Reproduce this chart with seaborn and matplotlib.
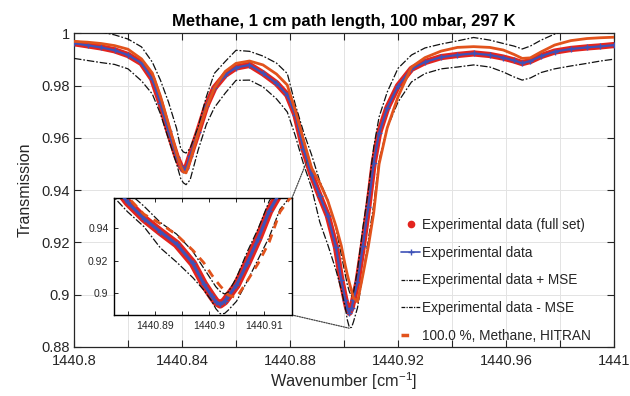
import numpy as np
import pandas as pd
import matplotlib
matplotlib.use("Agg")
import matplotlib.pyplot as plt
import seaborn as sns
from matplotlib.lines import Line2D
from matplotlib.patches import ConnectionPatch

# ---------------- data ----------------
wavenumber = [1440.800, 1440.805, 1440.810, 1440.815, 1440.820, 1440.825, 1440.829, 1440.832,
              1440.835, 1440.838, 1440.8395, 1440.8405, 1440.8415, 1440.843, 1440.846, 1440.849,
              1440.852, 1440.856, 1440.860, 1440.865, 1440.870, 1440.875, 1440.879, 1440.882,
              1440.885, 1440.888, 1440.891, 1440.894, 1440.897, 1440.899, 1440.9005, 1440.9012,
              1440.902, 1440.9028, 1440.9035, 1440.905, 1440.907, 1440.909, 1440.911, 1440.913,
              1440.916, 1440.920, 1440.925, 1440.930, 1440.936, 1440.942, 1440.948, 1440.954,
              1440.959, 1440.963, 1440.966, 1440.969, 1440.973, 1440.978, 1440.984, 1440.990,
              1440.995, 1441.000]

exp_T = [0.9962, 0.9954, 0.9946, 0.9935, 0.9917, 0.9886, 0.9825, 0.9733, 0.9625, 0.9528,
         0.9492, 0.9477, 0.9483, 0.9531, 0.9624, 0.9722, 0.9791, 0.9841, 0.9869, 0.9879,
         0.9847, 0.9809, 0.9764, 0.9688, 0.9558, 0.9458, 0.9378, 0.9302, 0.9183, 0.9057,
         0.8981, 0.8948, 0.8931, 0.8950, 0.8981, 0.9049, 0.9187, 0.9336, 0.9504, 0.9619,
         0.9714, 0.9799, 0.9864, 0.9890, 0.9909, 0.9917, 0.9923, 0.9917, 0.9907, 0.9896,
         0.9886, 0.9894, 0.9913, 0.9930, 0.9940, 0.9946, 0.9950, 0.9955]

mse_upper = [1.0024, 1.0015, 1.0005, 0.9994, 0.9978, 0.9948, 0.9890, 0.9821, 0.9737, 0.9636,
             0.9560, 0.9546, 0.9542, 0.9560, 0.9642, 0.9757, 0.9847, 0.9892, 0.9935, 0.9931,
             0.9913, 0.9886, 0.9846, 0.9726, 0.9623, 0.9535, 0.9435, 0.9363, 0.9256, 0.9153,
             0.9076, 0.9040, 0.9011, 0.8995, 0.9007, 0.9095, 0.9256, 0.9398, 0.9565, 0.9680,
             0.9775, 0.9866, 0.9917, 0.9944, 0.9959, 0.9971, 0.9984, 0.9974, 0.9961, 0.9951,
             0.9940, 0.9951, 0.9974, 0.9997, 1.0013, 1.0020, 1.0024, 1.0028]

mse_lower = [0.9904, 0.9896, 0.9888, 0.9881, 0.9864, 0.9818, 0.9768, 0.9692, 0.9596, 0.9500,
             0.9445, 0.9428, 0.9421, 0.9439, 0.9554, 0.9651, 0.9716, 0.9771, 0.9820, 0.9821,
             0.9795, 0.9749, 0.9699, 0.9607, 0.9500, 0.9409, 0.9279, 0.9191, 0.9095, 0.9019,
             0.8950, 0.8905, 0.8874, 0.8875, 0.8896, 0.8950, 0.9076, 0.9210, 0.9344, 0.9516,
             0.9638, 0.9737, 0.9814, 0.9846, 0.9864, 0.9871, 0.9879, 0.9871, 0.9852, 0.9833,
             0.9821, 0.9829, 0.9850, 0.9864, 0.9875, 0.9885, 0.9894, 0.9901]

hitran_T = [0.9969, 0.9966, 0.9961, 0.9953, 0.9939, 0.9902, 0.9848, 0.9760, 0.9653, 0.9542,
            0.9492, 0.9470, 0.9466, 0.9512, 0.9619, 0.9714, 0.9791, 0.9854, 0.9885, 0.9894,
            0.9879, 0.9844, 0.9802, 0.9703, 0.9592, 0.9485, 0.9428, 0.9359, 0.9263, 0.9187,
            0.9110, 0.9078, 0.9045, 0.9015, 0.8988, 0.8973, 0.9076, 0.9184, 0.9313, 0.9500,
            0.9638, 0.9757, 0.9871, 0.9907, 0.9932, 0.9946, 0.9949, 0.9946, 0.9936, 0.9919,
            0.9904, 0.9906, 0.9929, 0.9955, 0.9972, 0.9980, 0.9983, 0.9985]

series_labels = ["Experimental data (full set)", "Experimental data",
                 "Experimental data + MSE", "Experimental data - MSE",
                 "100.0 %, Methane, HITRAN"]

main_xticks = [1440.80, 1440.82, 1440.84, 1440.86, 1440.88, 1440.90, 1440.92, 1440.94,
               1440.96, 1440.98, 1441.00]
main_xlabels = ["1440.8", "", "1440.84", "", "1440.88", "", "1440.92", "", "1440.96", "", "1441"]
main_yticks = [0.88, 0.90, 0.92, 0.94, 0.96, 0.98, 1.00]
main_ylabels = ["0.88", "0.9", "0.92", "0.94", "0.96", "0.98", "1"]
inset_xticks = [1440.89, 1440.90, 1440.91]
inset_xminor = [1440.885, 1440.895, 1440.905]
inset_xlabels = ["1440.89", "1440.9", "1440.91"]
inset_yticks = [0.90, 0.92, 0.94]
inset_ylabels = ["0.9", "0.92", "0.94"]

# ---------------- style ----------------
sns.set_theme(style="whitegrid")
plt.rcParams["font.family"] = ["Liberation Sans", "DejaVu Sans"]
plt.rcParams["mathtext.default"] = "regular"
TXT = "#262626"

C_RED = "#E3241E"
C_BLUE = "#3E52B8"
C_ORANGE = "#E2531C"
C_BLACK = "#111111"
DASHDOT = (0, (6, 1.5, 1.4, 1.5))

df = pd.DataFrame({"w": wavenumber, "exp": exp_T, "up": mse_upper,
                   "lo": mse_lower, "hitran": hitran_T})

fig = plt.figure(figsize=(6.3, 3.96), dpi=100)
ax = fig.add_axes([74 / 630, 1 - 347 / 396, 540 / 630, 313.7 / 396])


def draw(a, inset=False):
    sns.lineplot(data=df, x="w", y="exp", ax=a, color=C_RED, lw=4.5 if not inset else 6,
                 sort=False, estimator=None, legend=False, zorder=2)
    sns.lineplot(data=df, x="w", y="exp", ax=a, color=C_BLUE, lw=1.6 if not inset else 2.2,
                 marker="+", markersize=4 if not inset else 5, markeredgewidth=1.0,
                 markeredgecolor=C_BLUE, sort=False, estimator=None, legend=False, zorder=3)
    for col in ("up", "lo"):
        sns.lineplot(data=df, x="w", y=col, ax=a, color=C_BLACK, lw=0.9,
                     linestyle=DASHDOT, sort=False, estimator=None, legend=False, zorder=4)
    if inset:
        sns.lineplot(data=df, x="w", y="hitran", ax=a, color=C_ORANGE, lw=2.0,
                     linestyle=(0, (3, 2.4)), sort=False, estimator=None, legend=False, zorder=5)
    else:
        sns.lineplot(data=df, x="w", y="hitran", ax=a, color=C_ORANGE, lw=2.0,
                     sort=False, estimator=None, legend=False, zorder=5)


draw(ax)
ax.set_xlim(1440.8, 1441.0)
ax.set_ylim(0.88, 1.0)
ax.set_xticks(main_xticks)
ax.set_xticklabels(main_xlabels)
ax.set_yticks(main_yticks)
ax.set_yticklabels(main_ylabels)
ax.tick_params(direction="in", length=5, width=0.8, colors=TXT, labelsize=10.5,
               top=True, right=True, bottom=True, left=True, pad=3)
ax.tick_params(axis="x", pad=5)
ax.grid(True, color="#E3E3E3", lw=0.7)
for s in ax.spines.values():
    s.set_color(TXT)
    s.set_linewidth(0.9)
ax.set_facecolor("white")
ax.set_xlabel(r"Wavenumber [cm$^{-1}$]", fontsize=11.8, color=TXT, labelpad=2)
ax.set_ylabel("Transmission", fontsize=11.5, color=TXT, labelpad=6)
ax.set_title("Methane, 1 cm path length, 100 mbar, 297 K", fontsize=12,
             fontweight="bold", color="black", pad=5)

handles = [
    Line2D([], [], color=C_RED, marker="o", linestyle="none", markersize=4.5),
    Line2D([], [], color=C_BLUE, marker="+", lw=1.2, markersize=4),
    Line2D([], [], color=C_BLACK, lw=0.9, linestyle=(0, (3, 1, 1, 1))),
    Line2D([], [], color=C_BLACK, lw=0.9, linestyle=(0, (3, 1, 1, 1))),
    Line2D([], [], color=C_ORANGE, lw=2.5, linestyle=(0, (2.2, 10))),
]
leg = ax.legend(handles, series_labels, loc="lower left", bbox_to_anchor=(0.605, 0.014),
                frameon=False, fontsize=9.8, handlelength=1.45, handletextpad=0.15,
                labelspacing=1.0, borderpad=0.0, borderaxespad=0.0)
for t in leg.get_texts():
    t.set_color(TXT)

# ---------------- inset ----------------
ins = fig.add_axes([114 / 630, 1 - 315 / 396, 178 / 630, 117 / 396], zorder=10)
ins.set_facecolor("white")
draw(ins, inset=True)
ins.set_xlim(1440.8825, 1440.9152)
ins.set_ylim(0.8866, 0.9585)
ins.set_xticks(inset_xticks)
ins.set_xticklabels(inset_xlabels)
ins.set_xticks(inset_xminor, minor=True)
ins.set_yticks(inset_yticks)
ins.set_yticklabels(inset_ylabels)
ins.grid(False)
ins.set_xlabel("")
ins.set_ylabel("")
ins.tick_params(which="both", direction="in", length=3, width=0.7, colors=TXT, labelsize=7.5,
                top=True, right=True, bottom=True, left=True, pad=4)
for s in ins.spines.values():
    s.set_color("black")
    s.set_linewidth(1.0)

# dotted zoom connectors from inset corners to the curves
for xa, anchor in (((1, 1), (1440.8863, 0.9512)), ((1, 0), (1440.9019, 0.8872))):
    con = ConnectionPatch(xyA=xa, coordsA=ins.transAxes, xyB=anchor, coordsB=ax.transData,
                          color="#444444", lw=0.9, linestyle=(0, (1, 1)), zorder=9)
    fig.add_artist(con)

fig.savefig("out.png", dpi=100, facecolor="white")
